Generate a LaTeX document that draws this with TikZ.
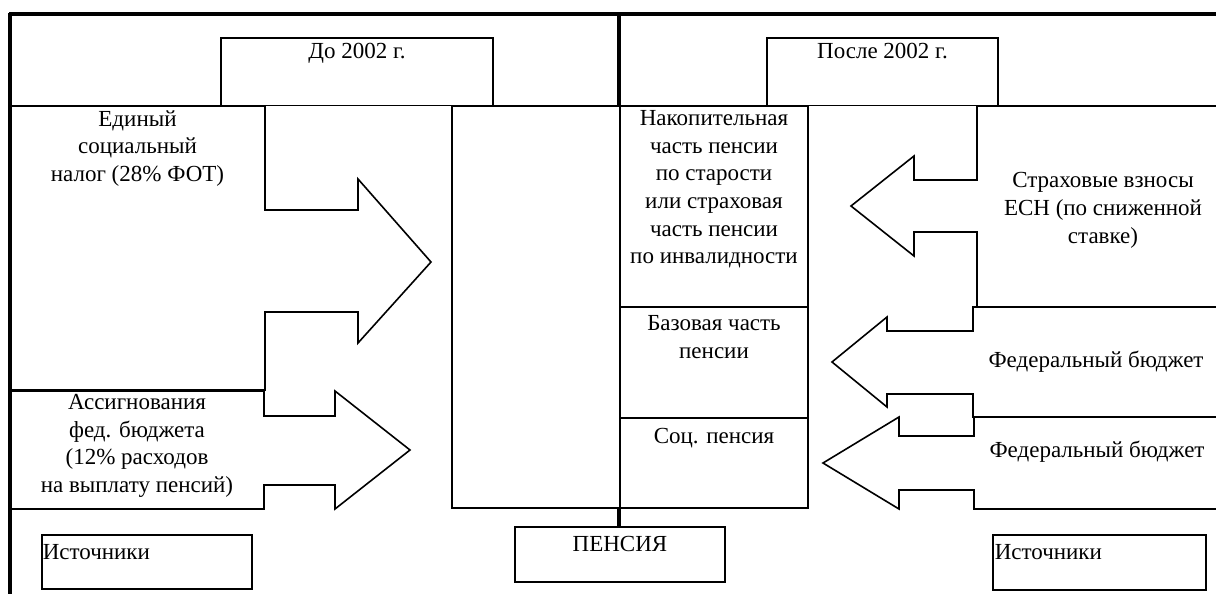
\documentclass[tikz,border=0pt]{standalone}
\usepackage{fontspec}
\setmainfont{Liberation Serif}
\begin{document}
\begin{tikzpicture}[x=0.5pt, y=-0.5pt, line width=0.8pt,
    txt/.style={font=\fontsize{11.5}{13.85}\selectfont, inner sep=0pt, align=center, anchor=north, execute at begin node=\strut},
    heavy/.style={line width=1.6pt},
    divider/.style={line width=2.4pt}]
    \useasboundingbox (0,0) rectangle (1216,594);

    % frame
    \draw[heavy] (9,14) -- (1230,14);
    \draw[heavy] (10,13) -- (10,594);
    \draw (10,105.5) -- (1230,105.5);
    \draw[divider] (619,14) -- (619,106);
    \draw[divider] (619,508) -- (619,527);

    % headers
    \draw (221,38) rectangle (493,105.5);
    \node[txt] (before) at (357,38.6) {До 2002 г.};
    \draw (767,38) rectangle (998,105.5);
    \node[txt] (after) at (882.5,38.6) {После 2002 г.};

    % sources before 2002
    \draw (10,106) -- (265,106) -- (265,210) -- (358,210) -- (358,179) -- (431,262)
        -- (358,343) -- (358,312) -- (265,312) -- (265,390) -- (10,390) -- cycle;
    \node[txt] (esn) at (137.5,109.6) {Единый\\социальный\\налог (28\% ФОТ)};
    \draw (10,391) -- (264,391) -- (264,416) -- (335,416) -- (335,391) -- (410,450)
        -- (335,509) -- (335,485) -- (264,485) -- (264,509) -- (10,509) -- cycle;
    \node[txt] (assign) at (137,393.6) {Ассигнования\\фед. бюджета\\(12\% расходов\\на выплату пенсий)};

    % pension
    \draw (452,106) rectangle (620,508);
    \draw (620,106) rectangle (808,508);
    \draw (620,307) -- (808,307);
    \draw (620,418) -- (808,418);
    \node[txt] (funded) at (714,109.6) {Накопительная\\часть пенсии\\по старости\\или страховая\\часть пенсии\\по инвалидности};
    \node[txt] (basic) at (714,314.6) {Базовая часть\\пенсии};
    \node[txt] (social) at (714,423.6) {Соц. пенсия};

    % sources after 2002
    \draw (1230,106) -- (977,106) -- (977,180) -- (914,180) -- (914,156) -- (851,206)
        -- (914,256) -- (914,232) -- (977,232) -- (977,307) -- (1230,307);
    \node[txt] (insur) at (1103,171.6) {Страховые взносы\\ЕСН (по сниженной\\ставке)};
    \draw (1230,307) -- (973,307) -- (973,331) -- (887,331) -- (887,317) -- (832,362)
        -- (887,407) -- (887,394) -- (973,394) -- (973,417) -- (1230,417);
    \node[txt] (budgeta) at (1096,347.6) {Федеральный бюджет};
    \draw (1230,417) -- (974,417) -- (974,436) -- (899,436) -- (899,417) -- (823,463)
        -- (899,509) -- (899,490) -- (974,490) -- (974,509) -- (1230,509);
    \node[txt] (budgetb) at (1097,437.6) {Федеральный бюджет};

    % captions
    \draw (42,535) rectangle (252,589);
    \node[txt, anchor=north west] (srcleft) at (42,539.6) {Источники};
    \draw (515,527) rectangle (725,582);
    \node[txt] (pension) at (620,531.6) {ПЕНСИЯ};
    \draw (993,535) rectangle (1206,590);
    \node[txt, anchor=north west] (srcright) at (994,539.6) {Источники};
\end{tikzpicture}
\end{document}
